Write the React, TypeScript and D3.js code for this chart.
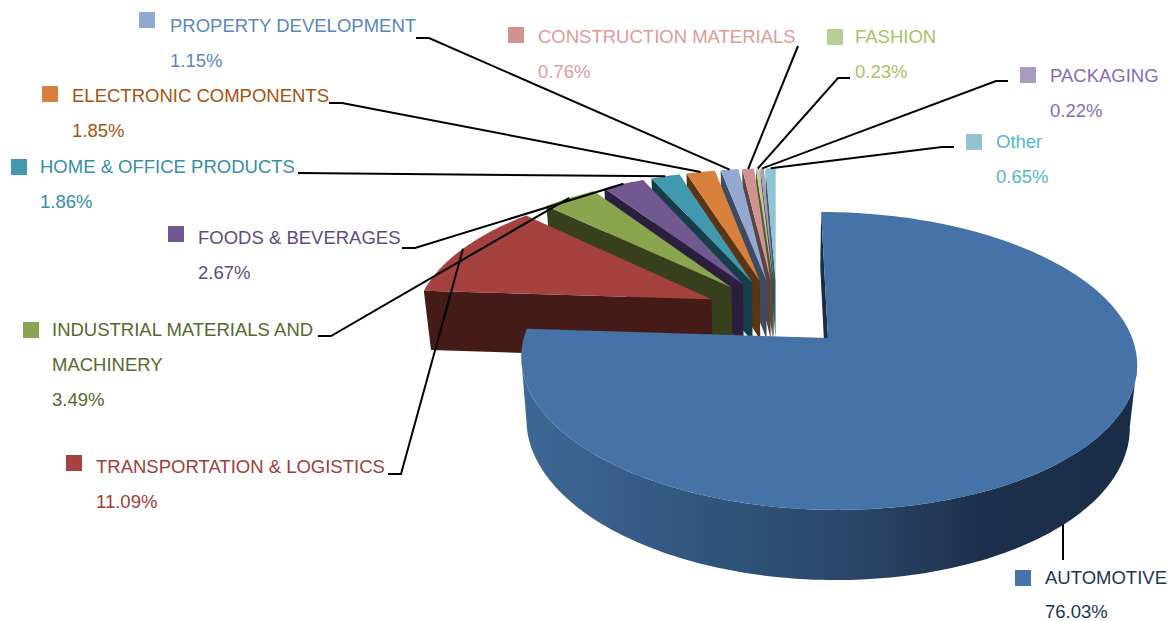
import * as d3 from "d3";

// Shares of the pie, clockwise from 12 o'clock
const names = [
  "AUTOMOTIVE",
  "TRANSPORTATION & LOGISTICS",
  "INDUSTRIAL MATERIALS AND MACHINERY",
  "FOODS & BEVERAGES",
  "HOME & OFFICE PRODUCTS",
  "ELECTRONIC COMPONENTS",
  "PROPERTY DEVELOPMENT",
  "CONSTRUCTION MATERIALS",
  "FASHION",
  "PACKAGING",
  "Other",
];
const shares = [76.03, 11.09, 3.49, 2.67, 1.86, 1.85, 1.15, 0.76, 0.23, 0.22, 0.65];

const topColors = ["#4572a7", "#a5423f", "#89a54e", "#71588f", "#4198af", "#d9813c", "#93a9d1", "#d19392", "#b9cd96", "#a99bbd", "#92c3d4"];
const wallColors = ["#1a2d47", "#451b18", "#373f1c", "#2a1f3c", "#163e4a", "#5a3413", "#3d4a62", "#5a4343", "#4c5a34", "#453d55", "#3d5c68"];
const textColors = ["#1b3555", "#a03c39", "#55692e", "#5f4a80", "#378ea6", "#a4540f", "#5a86c2", "#e09a98", "#a2c465", "#8a6ab0", "#55b5cf"];

// Legend boxes: swatch corner, text start, first baseline, line gap
const labelBoxes = [
  { sx: 1015, sy: 570, tx: 1045, ty: 584, gap: 34 },
  { sx: 66, sy: 455, tx: 96, ty: 473, gap: 35 },
  { sx: 23, sy: 322, tx: 52, ty: 336, gap: 35 },
  { sx: 168, sy: 226, tx: 198, ty: 244, gap: 35 },
  { sx: 11, sy: 159, tx: 40, ty: 173, gap: 35 },
  { sx: 42, sy: 86, tx: 72, ty: 102, gap: 35 },
  { sx: 139, sy: 12, tx: 170, ty: 32, gap: 35 },
  { sx: 508, sy: 27, tx: 538, ty: 43, gap: 35 },
  { sx: 827, sy: 29, tx: 855, ty: 43, gap: 35 },
  { sx: 1020, sy: 67, tx: 1050, ty: 82, gap: 35 },
  { sx: 966, sy: 134, tx: 996, ty: 148, gap: 35 },
];
const labelLines = [
  ["AUTOMOTIVE", "76.03%"],
  ["TRANSPORTATION & LOGISTICS", "11.09%"],
  ["INDUSTRIAL MATERIALS AND", "MACHINERY", "3.49%"],
  ["FOODS & BEVERAGES", "2.67%"],
  ["HOME & OFFICE PRODUCTS", "1.86%"],
  ["ELECTRONIC COMPONENTS", "1.85%"],
  ["PROPERTY DEVELOPMENT", "1.15%"],
  ["CONSTRUCTION MATERIALS", "0.76%"],
  ["FASHION", "0.23%"],
  ["PACKAGING", "0.22%"],
  ["Other", "0.65%"],
];

// Leader tails: end at the label, then the elbow, then up to the slice edge
const leaderTails: [number, number][][] = [
  [[1063, 560], [1063, 500]],
  [[388, 474], [401, 474]],
  [[318, 336], [331, 336]],
  [[402, 248], [415, 248]],
  [[298, 173]],
  [[329, 103], [342, 103]],
  [[416, 38], [429, 38]],
  [[798, 46]],
  [[850, 78], [838, 78]],
  [[1008, 81], [996, 81]],
  [[954, 147], [942, 147]],
];

const WIDTH = 1168;
const HEIGHT = 621;

// Perspective of the disc. u, v are disc coordinates (radius 1, v pointing back).
const CX = 777;
const TILT = 0.15;
const TOP = { y0: 312.7, sx: 296, sy: 137.7 };
const BOTTOM = { y0: 373, sx: 290, sy: 144.6 };
const EXPLODE = 0.245;

// The part of the blue rim that faces the camera, silhouette to silhouette
const RIM_FROM = (100 * Math.PI) / 180;
const RIM_TO = (262 * Math.PI) / 180;

function project(u: number, v: number, plane: typeof TOP): [number, number] {
  const w = 1 + TILT * v;
  return [CX + (plane.sx * u) / w, plane.y0 - (plane.sy * v) / w];
}

const slices = d3.pie<number>().sort(null)(shares);

function apex(mid: number): [number, number] {
  return [EXPLODE * Math.sin(mid), EXPLODE * Math.cos(mid)];
}
function rimPoints(s: d3.PieArcDatum<number>, plane: typeof TOP, from: number, to: number) {
  const [ou, ov] = apex((s.startAngle + s.endAngle) / 2);
  const angles = [...d3.range(from, to, 0.02), to];
  return angles.map((a) => project(ou + Math.sin(a), ov + Math.cos(a), plane));
}

const closed = d3.line().curve(d3.curveLinearClosed);
const open = d3.line();

function slicePaths(s: d3.PieArcDatum<number>) {
  const [ou, ov] = apex((s.startAngle + s.endAngle) / 2);
  const topRim = rimPoints(s, TOP, s.startAngle, s.endAngle);
  const bottomRim = rimPoints(s, BOTTOM, s.startAngle, s.endAngle);
  const topApex = project(ou, ov, TOP);
  const bottomApex = project(ou, ov, BOTTOM);
  return {
    top: closed([topApex, ...topRim]) as string,
    wall: closed([topApex, topRim[0], bottomRim[0], bottomApex]) as string,
  };
}

function frontRim(s: d3.PieArcDatum<number>) {
  const upper = rimPoints(s, TOP, RIM_FROM, RIM_TO);
  const lower = rimPoints(s, BOTTOM, RIM_FROM, RIM_TO);
  return closed([...upper, ...lower.reverse()]) as string;
}

function leaderPath(i: number) {
  const s = slices[i];
  const mid = (s.startAngle + s.endAngle) / 2;
  const [ou, ov] = apex(mid);
  const tip = project(ou + Math.sin(mid), ov + Math.cos(mid), TOP);
  return open([...leaderTails[i], tip]) as string;
}

// Paint the small slices back to front, the large blue one last
const paintOrder = d3.range(slices.length - 1, 0, -1);

export default function App() {
  const auto = slicePaths(slices[0]);
  return (
    <svg
      width={WIDTH}
      height={HEIGHT}
      viewBox={`0 0 ${WIDTH} ${HEIGHT}`}
      style={{ position: "absolute", left: 0, top: 0, background: "#fff" }}
      fontFamily="'Liberation Sans', Arial, sans-serif"
      fontSize={18.5}
    >
      <defs>
        <linearGradient id="autoRim" gradientUnits="userSpaceOnUse" x1={525} x2={1135} y1={0} y2={0}>
          <stop offset="0%" stopColor="#3d6895" />
          <stop offset="30%" stopColor="#30557d" />
          <stop offset="55%" stopColor="#2a4566" />
          <stop offset="75%" stopColor="#1c304d" />
          <stop offset="100%" stopColor="#1a2d47" />
        </linearGradient>
      </defs>

      {paintOrder.map((i) => {
        const p = slicePaths(slices[i]);
        return (
          <g key={names[i]}>
            <path d={p.wall} fill={wallColors[i]} />
            <path d={p.top} fill={topColors[i]} />
          </g>
        );
      })}

      <path d={leaderPath(0)} fill="none" stroke="#000" strokeWidth={2} />
      <path d={auto.wall} fill={wallColors[0]} />
      <path d={frontRim(slices[0])} fill="url(#autoRim)" />
      <path d={auto.top} fill={topColors[0]} />

      {d3.range(1, slices.length).map((i) => (
        <path key={i} d={leaderPath(i)} fill="none" stroke="#000" strokeWidth={2} />
      ))}

      {labelBoxes.map((b, i) => (
        <g key={names[i]}>
          <rect x={b.sx} y={b.sy} width={16} height={16} fill={topColors[i]} />
          {labelLines[i].map((line, j) => (
            <text key={j} x={b.tx} y={b.ty + j * b.gap} fill={textColors[i]}>
              {line}
            </text>
          ))}
        </g>
      ))}
    </svg>
  );
}
